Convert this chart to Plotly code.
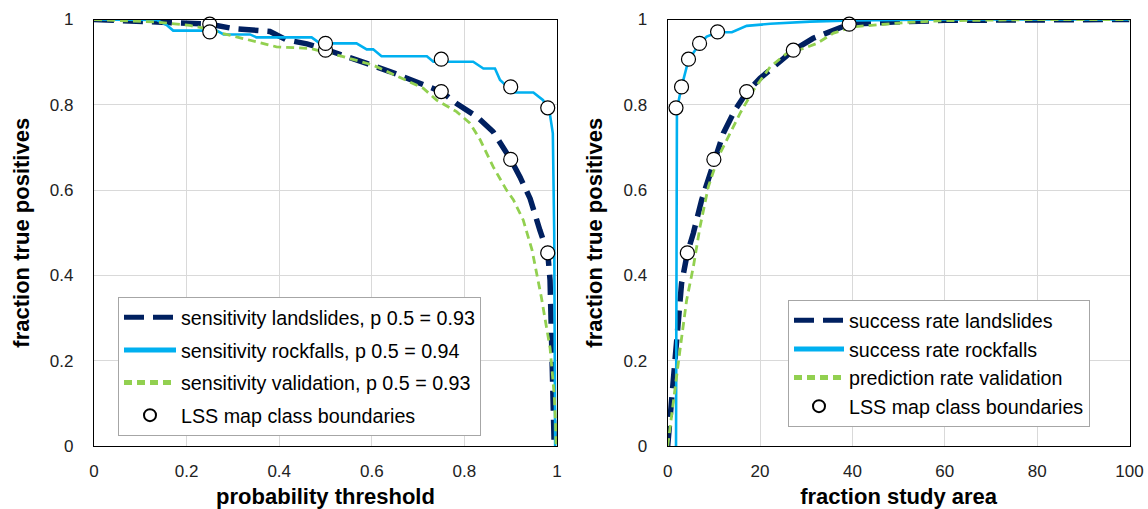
import plotly.graph_objects as go

# ---- left panel: sensitivity vs probability threshold ----
thr_landslides = [0, 0.10, 0.20, 0.25, 0.30, 0.38, 0.416, 0.46, 0.50, 0.538, 0.589, 0.639,
                  0.683, 0.75, 0.783, 0.827, 0.862, 0.888, 0.90, 0.92, 0.942, 0.963, 0.98,
                  0.985, 0.987, 0.990, 0.992, 0.994]
sens_landslides = [1.0, 0.995, 0.992, 0.989, 0.979, 0.972, 0.952, 0.943, 0.930, 0.917, 0.897,
                   0.878, 0.858, 0.831, 0.803, 0.772, 0.737, 0.694, 0.672, 0.631, 0.580, 0.506,
                   0.453, 0.389, 0.303, 0.202, 0.108, 0.0]

thr_rockfalls = [0, 0.135, 0.157, 0.171, 0.265, 0.28, 0.337, 0.351, 0.470, 0.488, 0.567, 0.589,
                 0.603, 0.621, 0.719, 0.733, 0.819, 0.841, 0.866, 0.877, 0.906, 0.949, 0.970,
                 0.985, 0.991, 0.994, 0.996]
sens_rockfalls = [1.0, 0.999, 0.987, 0.974, 0.974, 0.965, 0.965, 0.958, 0.958, 0.944, 0.944,
                  0.930, 0.930, 0.914, 0.914, 0.901, 0.901, 0.885, 0.885, 0.858, 0.829, 0.829,
                  0.811, 0.776, 0.733, 0.500, 0.0]

thr_validation = [0, 0.135, 0.207, 0.236, 0.279, 0.337, 0.394, 0.467, 0.538, 0.603, 0.675,
                  0.711, 0.74, 0.783, 0.812, 0.834, 0.862, 0.891, 0.906, 0.927, 0.946, 0.966,
                  0.985, 0.994, 0.997, 0.998]
sens_validation = [1.0, 0.994, 0.986, 0.980, 0.967, 0.952, 0.936, 0.932, 0.913, 0.893, 0.858,
                   0.839, 0.811, 0.784, 0.757, 0.718, 0.655, 0.600, 0.577, 0.530, 0.460, 0.350,
                   0.230, 0.120, 0.050, 0.0]

# ---- right panel: success / prediction rate curves ----
area_landslides = [0, 0.5, 1.3, 2.3, 3.0, 4.25, 5.55, 7.36, 10.0, 12.05, 14.58, 17.1, 20.0,
                   23.6, 27.2, 31.5, 35.9, 39.3, 48.9, 60, 80, 100]
rate_landslides = [0, 0.07, 0.15, 0.28, 0.381, 0.452, 0.499, 0.577, 0.67, 0.733, 0.788, 0.829,
                   0.862, 0.897, 0.928, 0.956, 0.975, 0.989, 0.994, 0.998, 0.999, 1.0]

area_rockfalls = [1.8, 2.0, 3.0, 4.5, 6.9, 8.45, 10.8, 13.9, 17.1, 22.2, 30.8, 40, 60, 100]
rate_rockfalls = [0, 0.79, 0.842, 0.905, 0.943, 0.96, 0.97, 0.97, 0.985, 0.99, 0.995, 0.998,
                  1.0, 1.0]

area_validation = [0, 1.2, 2.66, 4.1, 5.55, 7.0, 8.8, 10.97, 13.5, 15.66, 18.6, 22.2, 25.8,
                   29.4, 32.3, 35.9, 40.2, 44.5, 51.8, 59, 80, 100]
rate_validation = [0, 0.108, 0.225, 0.342, 0.42, 0.514, 0.608, 0.678, 0.733, 0.78, 0.835,
                   0.889, 0.921, 0.932, 0.944, 0.968, 0.983, 0.987, 0.993, 0.997, 1.0, 1.0]

# ---- LSS map class boundaries ----
class_thresholds = [0.25, 0.5, 0.75, 0.9, 0.98]
class_sens_landslides = [0.989, 0.928, 0.831, 0.672, 0.453]
class_sens_rockfalls = [0.971, 0.944, 0.907, 0.842, 0.793]
class_area_landslides = [39.3, 27.2, 17.1, 10.0, 4.25]
class_area_rockfalls = [10.8, 6.9, 4.5, 3.0, 1.8]

NAVY = "#002060"
BLUE = "#00B0F0"
GREEN = "#92D050"
FONT = "Liberation Sans, Arial, sans-serif"

navy_line = dict(color=NAVY, width=5.5, dash="20px,9px")
blue_line = dict(color=BLUE, width=2.6)
green_line = dict(color=GREEN, width=2.8, dash="8px,5px")
circle = dict(symbol="circle", size=14, color="white", line=dict(color="black", width=1.2))

fig = go.Figure()

# left panel traces
fig.add_trace(go.Scatter(x=thr_landslides, y=sens_landslides, mode="lines", line=navy_line,
                         name="sensitivity landslides, p 0.5 = 0.93", legend="legend",
                         legendgroup="l1", xaxis="x", yaxis="y"))
fig.add_trace(go.Scatter(x=thr_rockfalls, y=sens_rockfalls, mode="lines", line=blue_line,
                         name="sensitivity rockfalls, p 0.5 = 0.94", legend="legend",
                         legendgroup="l2", xaxis="x", yaxis="y"))
fig.add_trace(go.Scatter(x=thr_validation, y=sens_validation, mode="lines", line=green_line,
                         name="sensitivity validation, p 0.5 = 0.93", legend="legend",
                         legendgroup="l3", xaxis="x", yaxis="y"))
fig.add_trace(go.Scatter(x=class_thresholds, y=class_sens_landslides, mode="markers",
                         marker=circle, name="LSS map class boundaries", legend="legend",
                         legendgroup="l4", cliponaxis=False, xaxis="x", yaxis="y"))
fig.add_trace(go.Scatter(x=class_thresholds, y=class_sens_rockfalls, mode="markers",
                         marker=circle, name="LSS map class boundaries", showlegend=False,
                         legendgroup="l4", cliponaxis=False, xaxis="x", yaxis="y"))

# right panel traces
fig.add_trace(go.Scatter(x=area_landslides, y=rate_landslides, mode="lines", line=navy_line,
                         name="success rate landslides", legend="legend2",
                         legendgroup="r1", xaxis="x2", yaxis="y2"))
fig.add_trace(go.Scatter(x=area_rockfalls, y=rate_rockfalls, mode="lines", line=blue_line,
                         name="success rate rockfalls", legend="legend2",
                         legendgroup="r2", xaxis="x2", yaxis="y2"))
fig.add_trace(go.Scatter(x=area_validation, y=rate_validation, mode="lines", line=green_line,
                         name="prediction rate validation", legend="legend2",
                         legendgroup="r3", xaxis="x2", yaxis="y2"))
fig.add_trace(go.Scatter(x=class_area_landslides, y=class_sens_landslides, mode="markers",
                         marker=circle, name="LSS map class boundaries", legend="legend2",
                         legendgroup="r4", cliponaxis=False, xaxis="x2", yaxis="y2"))
fig.add_trace(go.Scatter(x=class_area_rockfalls, y=class_sens_rockfalls, mode="markers",
                         marker=circle, name="LSS map class boundaries", showlegend=False,
                         legendgroup="r4", cliponaxis=False, xaxis="x2", yaxis="y2"))

W, H = 1148, 509
tick_font = dict(family=FONT, size=17, color="#222222")
title_font = dict(family=FONT, size=22, color="black")
legend_font = dict(family=FONT, size=19.7, color="black")


def axis_style(**kw):
    base = dict(showgrid=True, gridcolor="#D9D9D9", gridwidth=1, zeroline=False,
                showline=True, linecolor="black", linewidth=1.3, mirror=True,
                ticks="", tickfont=tick_font, automargin=False)
    base.update(kw)
    return base


fig.update_layout(
    width=W, height=H,
    margin=dict(l=0, r=0, t=0, b=0),
    paper_bgcolor="white", plot_bgcolor="white",
    font=dict(family=FONT),
    xaxis=axis_style(domain=[94 / W, 557 / W], range=[0, 1], dtick=0.2, anchor="y",
                     ticklabelstandoff=9,
                     title=dict(text="<b>probability threshold</b>", font=title_font, standoff=9)),
    yaxis=axis_style(domain=[63 / H, 489.5 / H], range=[0, 1], dtick=0.2, anchor="x",
                     ticklabelstandoff=16,
                     title=dict(text="<b>fraction true positives</b>", font=title_font, standoff=14)),
    xaxis2=axis_style(domain=[667.7 / W, 1129.5 / W], range=[0, 100], dtick=20, anchor="y2",
                      ticklabelstandoff=9,
                      title=dict(text="<b>fraction study area</b>", font=title_font, standoff=9)),
    yaxis2=axis_style(domain=[63 / H, 489.5 / H], range=[0, 1], dtick=0.2, anchor="x2",
                      ticklabelstandoff=16,
                      title=dict(text="<b>fraction true positives</b>", font=title_font, standoff=14)),
    legend=dict(x=118 / W, y=1 - 297 / H, xanchor="left", yanchor="top",
                bgcolor="white", bordercolor="#A6A6A6", borderwidth=1,
                font=legend_font, itemwidth=52,
                itemsizing="constant", tracegroupgap=4, traceorder="grouped"),
    legend2=dict(x=788 / W, y=1 - 300 / H, xanchor="left", yanchor="top",
                 bgcolor="white", bordercolor="#A6A6A6", borderwidth=1,
                 font=legend_font, itemwidth=50,
                 itemsizing="constant", tracegroupgap=0, traceorder="grouped"),
)

fig.write_html("out.html")
